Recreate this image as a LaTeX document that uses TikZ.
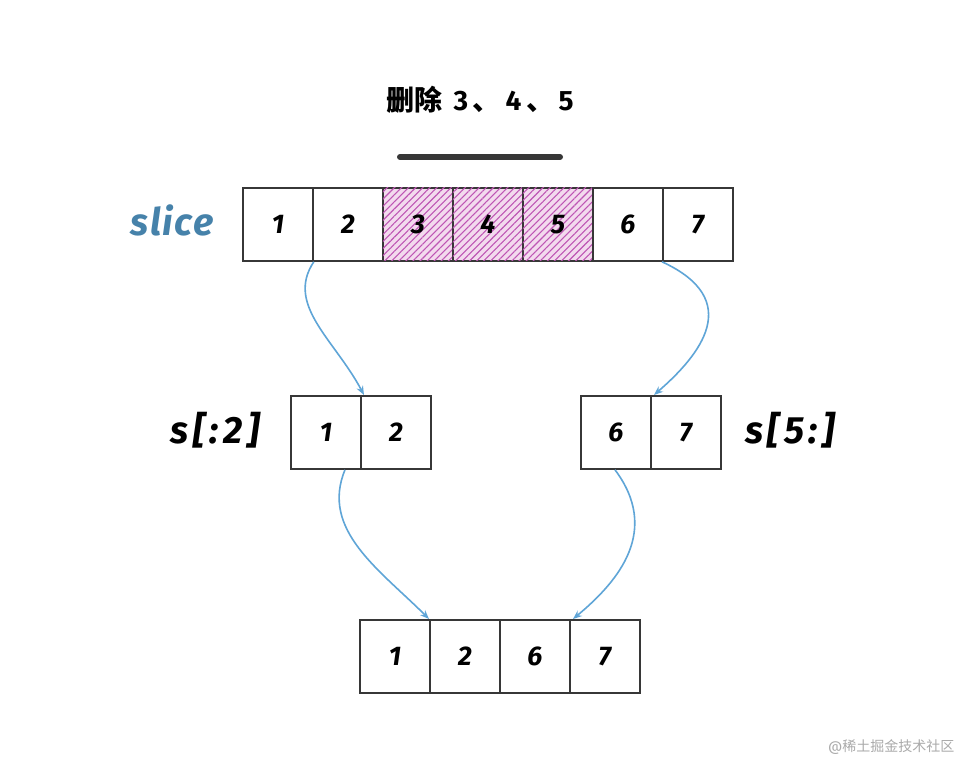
\documentclass[tikz,border=0pt]{standalone}
\usepackage{fontspec}
\setmainfont{Fira Sans}
\newfontfamily\cjkfont{Noto Sans CJK SC}
\usetikzlibrary{patterns.meta,arrows.meta}
\definecolor{boxline}{RGB}{55,55,55}
\definecolor{arrowblue}{RGB}{95,165,215}
\definecolor{slicecol}{RGB}{70,130,170}
\definecolor{hatchcol}{RGB}{190,85,180}
\definecolor{hatchbg}{RGB}{243,218,238}
\definecolor{wmark}{RGB}{170,170,170}
\begin{document}
\begin{tikzpicture}[x=1pt,y=-1pt,
  cell/.style={draw=boxline,line width=1.8pt,minimum width=70pt,minimum height=73pt,inner sep=0pt,anchor=north west,font=\bfseries\itshape\fontsize{27}{27}\selectfont},
  hcell/.style={cell,postaction={pattern={Lines[angle=45,distance=5pt,line width=1.1pt]},pattern color=hatchcol},fill=hatchbg},
  conn/.style={draw=arrowblue,line width=1.6pt,-{Stealth[length=9pt,width=7pt]}},
  lbl/.style={font=\bfseries\itshape\fontsize{38}{38}\selectfont\addfontfeature{LetterSpace=12},text=black}
]
\fill[white] (0,0) rectangle (978,780);
\useasboundingbox (0,0) rectangle (978,780);

% title
\node[font=\bfseries\fontsize{28}{28}\selectfont] (title) at (480,100) {{\cjkfont 删除} \,3\,{\cjkfont 、}\,4\,{\cjkfont 、}\,5};
\coordinate (barL) at (400,157);
\coordinate (barR) at (560,157);
\draw[boxline,line width=6pt,line cap=round] (barL) -- (barR);

% main slice
\node[cell] (a1) at (242,187) {1};
\node[cell] (a2) at (312,187) {2};
\node[hcell] (a3) at (382,187) {3};
\node[hcell] (a4) at (452,187) {4};
\node[hcell] (a5) at (522,187) {5};
\node[cell] (a6) at (592,187) {6};
\node[cell] (a7) at (662,187) {7};
\node[lbl,text=slicecol,font=\bfseries\itshape\fontsize{38}{38}\selectfont\addfontfeature{LetterSpace=4}] (slice) at (172,220) {slice};

% s[:2]
\node[lbl] (sl) at (215,430) {s[:2]};

% s[5:]
\node[lbl] (sr) at (790,430) {s[5:]};
\node[cell] (b1) at (290,395) {1};
\node[cell] (b2) at (360,395) {2};
\node[cell] (c1) at (580,395) {6};
\node[cell] (c2) at (650,395) {7};

% result
\node[cell] (d1) at (359,619) {1};
\node[cell] (d2) at (429,619) {2};
\node[cell] (d3) at (499,619) {6};
\node[cell] (d4) at (569,619) {7};

% connectors
\draw[conn] (a1.south east) .. controls (285,305) and (335,340) .. ([xshift=4pt]b2.north west);
\draw[conn] (a7.south west) .. controls (745,300) and (700,355) .. ([xshift=4pt]c2.north west);
\draw[conn] ([xshift=-15pt]b2.south west) .. controls (320,530) and (380,570) .. (d2.north west);
\draw[conn] ([xshift=-35pt]c2.south west) .. controls (660,530) and (620,580) .. ([xshift=4pt]d4.north west);

% watermark
\node[text=wmark,font=\fontsize{14}{14}\selectfont,anchor=east] (wm) at (958,747) {@{\cjkfont 稀土掘金技术社区}};
\end{tikzpicture}
\end{document}
